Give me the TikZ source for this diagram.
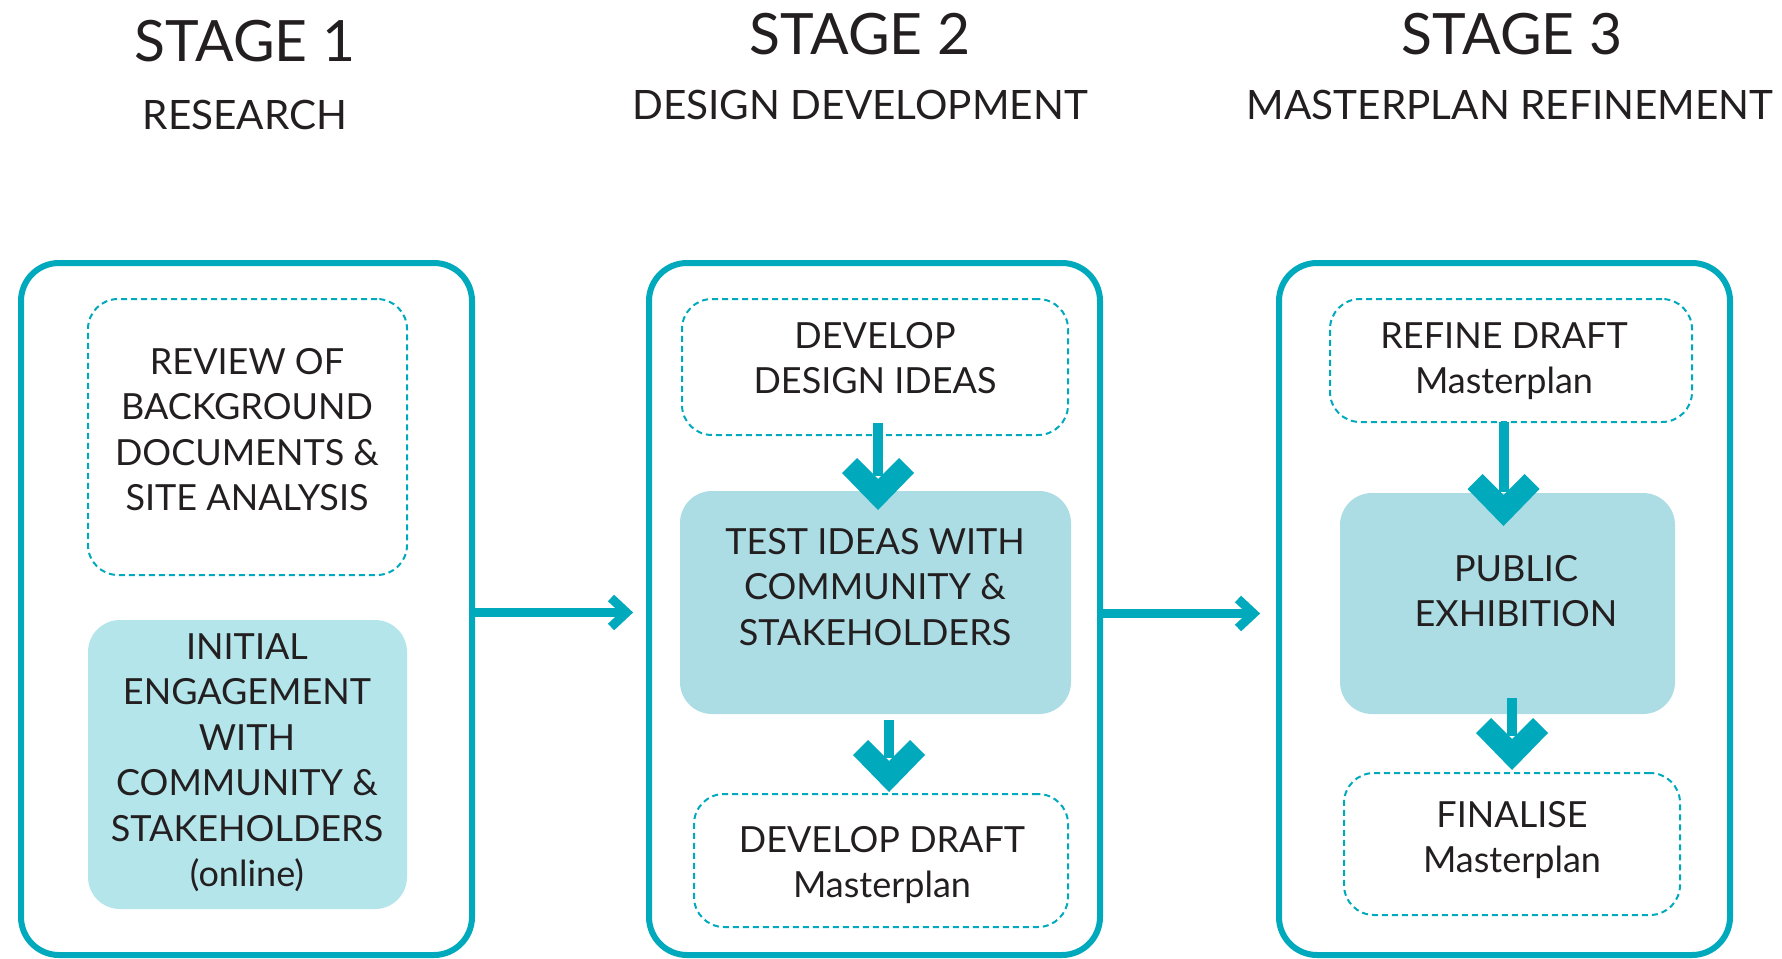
\documentclass[tikz,border=0pt]{standalone}
\usepackage{fontspec}
\setmainfont{Lato}
\usetikzlibrary{calc}
\definecolor{cline}{HTML}{00A9BC}
\definecolor{fillA}{HTML}{B3E5EB}
\definecolor{fillB}{HTML}{ACDDE4}
\definecolor{textc}{HTML}{231F20}
\tikzset{
  stagebox/.style={draw=cline, line width=6pt, rounded corners=38pt, rectangle,
    minimum width=451pt, minimum height=692pt, inner sep=0pt},
  dashbox/.style={draw=cline, line width=2pt, dash pattern=on 6pt off 4pt,
    rounded corners=30pt, rectangle, inner sep=0pt},
  fillboxA/.style={fill=fillA, rounded corners=32pt, rectangle, inner sep=0pt},
  fillboxB/.style={fill=fillB, rounded corners=32pt, rectangle, inner sep=0pt},
  txt/.style={align=center, font=\fontsize{36}{45.5}\selectfont, text=textc,
    inner sep=0pt, anchor=north},
  stagetitle/.style={font=\fontsize{57}{60}\selectfont, text=textc, inner sep=0pt, anchor=base},
  stagesub/.style={font=\fontsize{40.5}{44}\selectfont, text=textc, inner sep=0pt, anchor=base},
  hstem/.style={draw=cline, line width=9pt},
  chev/.style={draw=cline, line width=9pt, miter limit=4},
  dstem/.style={draw=cline, line width=10pt},
  dnhead/.pic={\fill[cline] (-36,-37) -- (0,0) -- (36,-37) -- (21,-52) -- (0,-31) -- (-21,-52) -- cycle;}
}
\begin{document}
\begin{tikzpicture}[x=1pt,y=-1pt]
\useasboundingbox (0,0) rectangle (1782,958);
\clip (0,0) rectangle (1782,958);

% headings
\node[stagetitle] (h1) at (245,62) {STAGE 1};
\node[stagesub] (h1s) at (245,129) {RESEARCH};
\node[stagetitle] (h2) at (860,55) {STAGE 2};
\node[stagesub] (h2s) at (860,119) {DESIGN DEVELOPMENT};
\node[stagetitle] (h3) at (1512,55) {STAGE 3};
\node[stagesub] (h3s) at (1510,119) {MASTERPLAN REFINEMENT};

% stage boxes
\node[stagebox] (S1) at (246.5,609) {};
\node[stagebox] (S2) at (874.5,609) {};
\node[stagebox] (S3) at (1504.5,609) {};

% inner boxes
\node[dashbox, minimum width=319pt, minimum height=276pt] (A) at (247.5,437) {};
\node[fillboxA, minimum width=319pt, minimum height=289pt] (B) at (247.5,764.5) {};
\node[dashbox, minimum width=386pt, minimum height=136pt] (C) at (875,367) {};
\node[fillboxB, minimum width=391pt, minimum height=223pt] (D) at (875.5,602.5) {};
\node[dashbox, minimum width=374pt, minimum height=133pt] (E) at (881,860.5) {};
\node[dashbox, minimum width=362pt, minimum height=123pt] (F) at (1511,360.5) {};
\node[fillboxB, minimum width=335pt, minimum height=221pt] (G) at (1507.5,603.5) {};
\node[dashbox, minimum width=336pt, minimum height=142pt] (H) at (1512,844) {};

% texts (north = top of first cap line)
\node[txt] (At) at (247,348.2) {REVIEW OF\\BACKGROUND\\DOCUMENTS \&\\SITE ANALYSIS};
\node[txt] (Bt) at (247,633.2) {INITIAL\\ENGAGEMENT\\WITH\\COMMUNITY \&\\STAKEHOLDERS\\(online)};
\node[txt] (Ct) at (875,322.2) {DEVELOP\\DESIGN IDEAS};
\node[txt] (Dt) at (875,528.2) {TEST IDEAS WITH\\COMMUNITY \&\\STAKEHOLDERS};
\node[txt] (Et) at (882,826.2) {DEVELOP DRAFT\\Masterplan};
\node[txt] (Ft) at (1504,322.2) {REFINE DRAFT\\Masterplan};
\node[txt] (Gt) at (1516,555.2) {PUBLIC\\EXHIBITION};
\node[txt] (Ht) at (1512,801.2) {FINALISE\\Masterplan};

% horizontal connectors
\coordinate (r1) at (624,612.5);
\draw[hstem] (S1.east |- r1) -- (r1);
\draw[chev] (611,598) -- (626.5,612.5) -- (611,627);
\coordinate (r2) at (1251,613.5);
\draw[hstem] (S2.east |- r2) -- (r2);
\draw[chev] (1238,599) -- (1253.5,613.5) -- (1238,628);

% vertical connectors
\coordinate (a1s) at (878,423);
\coordinate (a1t) at (878,510);
\draw[dstem] (a1s) -- ($(a1t)+(0,-34)$);
\pic at (a1t) {dnhead};

\coordinate (a2s) at (889,720);
\coordinate (a2t) at (889,792);
\draw[dstem] (a2s) -- ($(a2t)+(0,-34)$);
\pic at (a2t) {dnhead};

\coordinate (a3s) at (1503.5,422);
\coordinate (a3t) at (1503.5,526);
\draw[dstem] (a3s) -- ($(a3t)+(0,-34)$);
\pic at (a3t) {dnhead};

\coordinate (a4s) at (1512,698);
\coordinate (a4t) at (1512,770);
\draw[dstem] (a4s) -- ($(a4t)+(0,-34)$);
\pic at (a4t) {dnhead};
\end{tikzpicture}
\end{document}
